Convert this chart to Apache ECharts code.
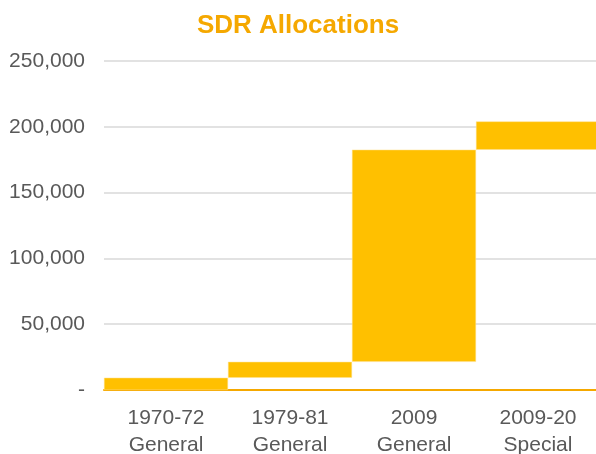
<!DOCTYPE html>
<html><head><meta charset="utf-8">
<script src="https://cdn.jsdelivr.net/npm/echarts@6/dist/echarts.min.js"></script>
<style>html,body{margin:0;padding:0;background:#fff}#c{width:596px;height:454px}</style>
</head><body><div id="c"></div>
<script>
var categories = ['1970-72\nGeneral', '1979-81\nGeneral', '2009\nGeneral', '2009-20\nSpecial'];
var allocations = [9315, 12063, 161200, 21500];
var yTicks = [0, 50000, 100000, 150000, 200000, 250000];

var base = [];
var run = 0;
for (var i = 0; i < allocations.length; i++) { base.push(run); run += allocations[i]; }

var chart = echarts.init(document.getElementById('c'));
chart.setOption({
  animation: false,
  title: {
    text: 'SDR Allocations', left: 'center', top: 8,
    textStyle: { color: '#F5A800', fontSize: 26, fontWeight: 'bold', fontFamily: 'Liberation Sans' }
  },
  grid: { left: 104, width: 496, top: 61, bottom: 64, outerBoundsMode: 'none', containLabel: false },
  xAxis: {
    type: 'category', data: categories,
    axisLine: { show: true, lineStyle: { color: '#F5A800', width: 2 } },
    axisTick: { show: false },
    axisLabel: { color: '#595959', fontSize: 21, fontFamily: 'Liberation Sans', lineHeight: 27, margin: 15 }
  },
  yAxis: {
    type: 'value', min: yTicks[0], max: yTicks[yTicks.length - 1], interval: 50000,
    axisLine: { show: false }, axisTick: { show: false },
    splitLine: { lineStyle: { color: '#D9D9D9', width: 1.5 } },
    axisLabel: {
      color: '#595959', fontSize: 21, fontFamily: 'Liberation Sans', margin: 19,
      formatter: function (v) { return v === 0 ? '-' : v.toLocaleString('en-US'); }
    }
  },
  series: [
    { type: 'bar', stack: 'w', data: base, barWidth: '100%', itemStyle: { color: 'transparent' }, silent: true },
    { type: 'bar', stack: 'w', data: allocations, barWidth: '100%', itemStyle: { color: '#FFC000', borderColor: '#FFE08A', borderWidth: 0.5 } }
  ]
});
</script></body></html>
